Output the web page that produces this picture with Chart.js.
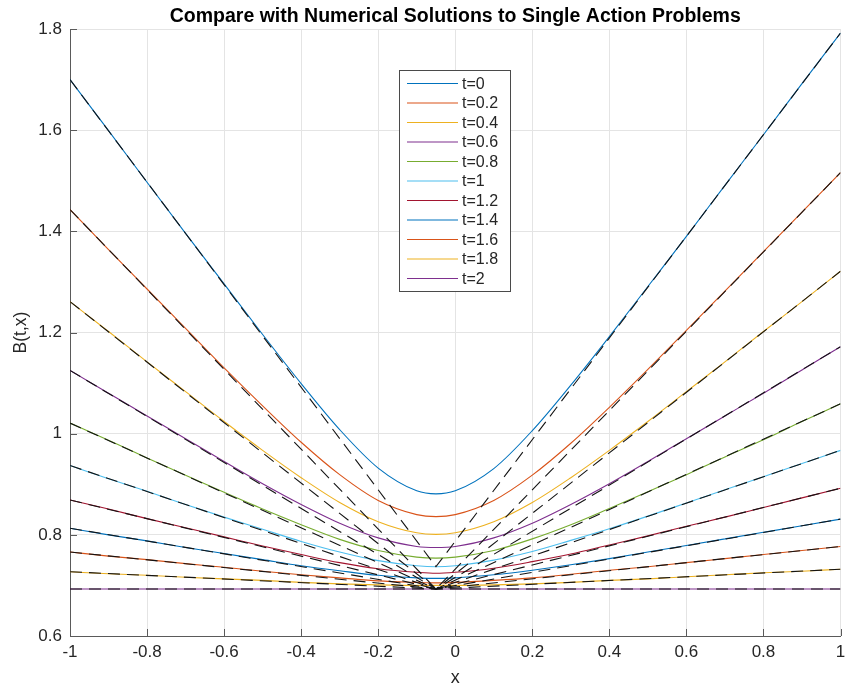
<!DOCTYPE html>
<html>
<head>
<meta charset="utf-8">
<script src="https://cdn.jsdelivr.net/npm/chart.js@4"></script>
<style>
  html, body { margin: 0; padding: 0; background: #fff; }
  canvas { display: block; }
</style>
</head>
<body>
<canvas id="chart" width="845" height="693"></canvas>
<script>
// Sample positions along x for the smooth curves
const xGrid = [-1, -0.9, -0.8, -0.7, -0.6, -0.5, -0.4, -0.3, -0.2, -0.1, -0.05, 0, 0.1, 0.2, 0.3, 0.4, 0.5, 0.6, 0.7, 0.8, 0.9, 1];

const tLabels = ['t=0', 't=0.2', 't=0.4', 't=0.6', 't=0.8', 't=1', 't=1.2', 't=1.4', 't=1.6', 't=1.8', 't=2'];

// B(t,x) for each t, on xGrid
const bT0  = [1.700, 1.599, 1.497, 1.396, 1.296, 1.196, 1.099, 1.008, 0.932, 0.887, 0.881, 0.887, 0.931, 1.006, 1.096, 1.192, 1.291, 1.390, 1.491, 1.591, 1.692, 1.792];
const bT02 = [1.443, 1.364, 1.286, 1.208, 1.130, 1.055, 0.983, 0.919, 0.868, 0.840, 0.836, 0.840, 0.868, 0.918, 0.981, 1.052, 1.127, 1.204, 1.282, 1.360, 1.438, 1.516];
const bT04 = [1.261, 1.202, 1.142, 1.083, 1.024, 0.967, 0.913, 0.864, 0.826, 0.804, 0.801, 0.804, 0.826, 0.864, 0.913, 0.967, 1.024, 1.083, 1.142, 1.202, 1.261, 1.321];
const bT06 = [1.125, 1.080, 1.035, 0.990, 0.945, 0.901, 0.860, 0.823, 0.794, 0.777, 0.775, 0.777, 0.794, 0.823, 0.860, 0.901, 0.945, 0.990, 1.035, 1.080, 1.126, 1.172];
const bT08 = [1.021, 0.987, 0.952, 0.918, 0.884, 0.851, 0.820, 0.791, 0.769, 0.756, 0.754, 0.756, 0.769, 0.792, 0.820, 0.852, 0.885, 0.919, 0.954, 0.988, 1.024, 1.059];
const bT10 = [0.937, 0.911, 0.886, 0.860, 0.835, 0.811, 0.787, 0.766, 0.749, 0.739, 0.737, 0.739, 0.750, 0.767, 0.789, 0.812, 0.837, 0.863, 0.889, 0.915, 0.941, 0.967];
const bT12 = [0.869, 0.851, 0.832, 0.814, 0.796, 0.778, 0.761, 0.745, 0.733, 0.726, 0.724, 0.726, 0.734, 0.747, 0.762, 0.780, 0.798, 0.817, 0.835, 0.854, 0.873, 0.892];
const bT14 = [0.813, 0.800, 0.788, 0.775, 0.763, 0.751, 0.739, 0.729, 0.720, 0.715, 0.714, 0.715, 0.721, 0.730, 0.741, 0.753, 0.766, 0.779, 0.792, 0.805, 0.818, 0.831];
const bT16 = [0.766, 0.758, 0.751, 0.743, 0.736, 0.728, 0.721, 0.715, 0.709, 0.706, 0.705, 0.706, 0.710, 0.715, 0.722, 0.730, 0.737, 0.745, 0.753, 0.761, 0.769, 0.777];
const bT18 = [0.727, 0.723, 0.720, 0.716, 0.713, 0.710, 0.706, 0.703, 0.701, 0.700, 0.700, 0.700, 0.701, 0.703, 0.706, 0.710, 0.713, 0.717, 0.721, 0.725, 0.728, 0.732];
const bT20 = [0.693, 0.693, 0.693, 0.693, 0.693, 0.693, 0.693, 0.693, 0.693, 0.693, 0.693, 0.693, 0.693, 0.693, 0.693, 0.693, 0.693, 0.693, 0.693, 0.693, 0.693, 0.693];

const seriesB = [bT0, bT02, bT04, bT06, bT08, bT10, bT12, bT14, bT16, bT18, bT20];

// Numerical solutions: straight from each boundary value to the kink at kinkX
const kinkX = -0.05;
const numLeft  = [1.700, 1.443, 1.261, 1.125, 1.021, 0.937, 0.869, 0.813, 0.766, 0.727, 0.693];
const numKink  = [0.737, 0.693, 0.693, 0.693, 0.693, 0.693, 0.693, 0.693, 0.693, 0.693, 0.693];
const numRight = [1.792, 1.516, 1.321, 1.172, 1.059, 0.967, 0.892, 0.831, 0.777, 0.732, 0.693];

const xTicks = [-1, -0.8, -0.6, -0.4, -0.2, 0, 0.2, 0.4, 0.6, 0.8, 1];
const xTickLabels = ['-1', '-0.8', '-0.6', '-0.4', '-0.2', '0', '0.2', '0.4', '0.6', '0.8', '1'];
const yTicks = [0.6, 0.8, 1, 1.2, 1.4, 1.6, 1.8];
const yTickLabels = ['0.6', '0.8', '1', '1.2', '1.4', '1.6', '1.8'];

const palette = ['#0072BD', '#D95319', '#EDB120', '#7E2F8E', '#77AC30', '#4DBEEE', '#A2142F'];
const FONT = '"Liberation Sans", Arial, Helvetica, sans-serif';
const INK = '#262626';

Chart.defaults.font.family = FONT;
Chart.defaults.color = INK;

const curveSets = seriesB.map((ys, k) => ({
  label: tLabels[k],
  data: xGrid.map((x, i) => ({ x: x, y: ys[i] })),
  borderColor: palette[k % palette.length],
  borderWidth: 1.1,
  pointRadius: 0,
  fill: false,
  cubicInterpolationMode: 'monotone',
  order: 30 - k
}));

const numericSets = seriesB.map((ys, k) => ({
  label: 'numeric ' + tLabels[k],
  data: [
    { x: -1, y: numLeft[k] },
    { x: kinkX, y: numKink[k] },
    { x: 1, y: numRight[k] }
  ],
  borderColor: '#141414',
  borderWidth: 1.1,
  borderDash: [12, 7],
  pointRadius: 0,
  fill: false,
  tension: 0,
  order: 0
}));

// Inward tick marks on the bottom and left axes
const innerTicks = {
  id: 'innerTicks',
  afterDatasetsDraw(chart) {
    const { ctx, chartArea: a, scales: { x, y } } = chart;
    const len = 7;
    ctx.save();
    ctx.strokeStyle = '#5a5a5a';
    ctx.lineWidth = 1;
    ctx.beginPath();
    xTicks.forEach(v => {
      const px = Math.round(x.getPixelForValue(v)) + 0.5;
      ctx.moveTo(px, a.bottom);
      ctx.lineTo(px, a.bottom - len);
    });
    yTicks.forEach(v => {
      const py = Math.round(y.getPixelForValue(v)) + 0.5;
      ctx.moveTo(a.left, py);
      ctx.lineTo(a.left + len, py);
    });
    ctx.stroke();
    ctx.restore();
  }
};

// Title centred over the plotting area
const plotTitle = {
  id: 'plotTitle',
  afterDraw(chart) {
    const { ctx, chartArea: a } = chart;
    ctx.save();
    ctx.fillStyle = '#000';
    ctx.font = 'bold 19.5px ' + FONT;
    ctx.textAlign = 'center';
    ctx.textBaseline = 'middle';
    ctx.fillText('Compare with Numerical Solutions to Single Action Problems', (a.left + a.right) / 2, 17);
    ctx.restore();
  }
};

// Boxed legend for the analytic curves
const boxLegend = {
  id: 'boxLegend',
  afterDraw(chart) {
    const { ctx } = chart;
    const left = 399.5, top = 70.5, w = 111, h = 221;
    const rowH = 19.5, firstRow = 83.5;
    ctx.save();
    ctx.fillStyle = '#fff';
    ctx.fillRect(left, top, w, h);
    ctx.strokeStyle = '#4a4a4a';
    ctx.lineWidth = 1;
    ctx.strokeRect(left, top, w, h);
    ctx.font = '16px ' + FONT;
    ctx.textAlign = 'left';
    ctx.textBaseline = 'middle';
    tLabels.forEach((lab, k) => {
      const yy = firstRow + k * rowH;
      ctx.strokeStyle = palette[k % palette.length];
      ctx.lineWidth = 1.1;
      ctx.beginPath();
      ctx.moveTo(407, yy);
      ctx.lineTo(458, yy);
      ctx.stroke();
      ctx.fillStyle = INK;
      ctx.fillText(lab, 462, yy + 1);
    });
    ctx.restore();
  }
};

new Chart(document.getElementById('chart'), {
  type: 'line',
  data: { datasets: [...numericSets, ...curveSets] },
  options: {
    responsive: false,
    animation: false,
    devicePixelRatio: 1,
    layout: { padding: { top: 29, right: 0, left: 0, bottom: 0 } },
    plugins: {
      legend: { display: false },
      tooltip: { enabled: false },
      title: { display: false }
    },
    scales: {
      x: {
        type: 'linear',
        min: -1,
        max: 1,
        afterBuildTicks: s => { s.ticks = xTicks.map(v => ({ value: v })); },
        afterFit: s => { s.height = 57; s.paddingRight = 4.5; s.paddingLeft = 0; },
        ticks: {
          autoSkip: false,
          maxRotation: 0,
          padding: 6,
          color: INK,
          font: { size: 17 },
          callback: (v, i) => xTickLabels[i]
        },
        grid: { color: '#e4e4e4', lineWidth: 1, drawTicks: false, tickLength: 0 },
        border: { display: true, color: '#5a5a5a', width: 1 },
        title: { display: true, text: 'x', color: INK, font: { size: 18 }, padding: { top: 0, bottom: 4 } }
      },
      y: {
        type: 'linear',
        min: 0.6,
        max: 1.8,
        afterBuildTicks: s => { s.ticks = yTicks.map(v => ({ value: v })); },
        afterFit: s => { s.width = 70; },
        ticks: {
          autoSkip: false,
          padding: 8,
          color: INK,
          font: { size: 17 },
          callback: (v, i) => yTickLabels[i]
        },
        grid: { color: '#e4e4e4', lineWidth: 1, drawTicks: false, tickLength: 0 },
        border: { display: true, color: '#5a5a5a', width: 1 },
        title: { display: true, text: 'B(t,x)', color: INK, font: { size: 17.5 }, padding: { top: 11, bottom: 0 } }
      }
    }
  },
  plugins: [innerTicks, plotTitle, boxLegend]
});
</script>
</body>
</html>
